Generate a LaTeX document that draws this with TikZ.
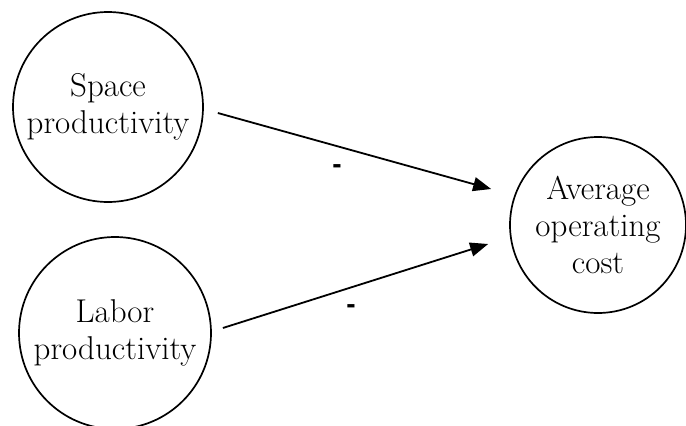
\documentclass[tikz,border=0pt]{standalone}
\usepackage{fontspec}
\newfontfamily\dashfont{Liberation Sans}
\usetikzlibrary{arrows.meta}
\begin{document}
\begin{tikzpicture}[x=1pt,y=-1pt,
  bubble/.style={circle,draw,line width=1.7pt,inner sep=0pt,align=center,
    font=\fontsize{33}{37}\selectfont},
  link/.style={line width=1.8pt,-{Triangle[length=18pt,width=14pt]}},
  sign/.style={font=\dashfont\bfseries\fontsize{28}{28}\selectfont,inner sep=0pt}]
\useasboundingbox (0,0) rectangle (686,426);
\node[bubble,minimum size=190pt] (sp) at (108,107) {Space\\productivity};
\node[bubble,minimum size=192pt] (lp) at (115,333) {Labor\\productivity};
\node[bubble,minimum size=176pt] (ac) at (598,225) {Average\\operating\\cost};
\draw[link] ([shift={(14,6)}]sp.east) -- ([shift={(-18,-36)}]ac.west);
\draw[link] ([shift={(11,-5)}]lp.east) -- ([shift={(-21,19)}]ac.west);
\node[sign] (m1) at (337,169) {-};
\node[sign] (m2) at (351,309) {-};
\end{tikzpicture}
\end{document}
